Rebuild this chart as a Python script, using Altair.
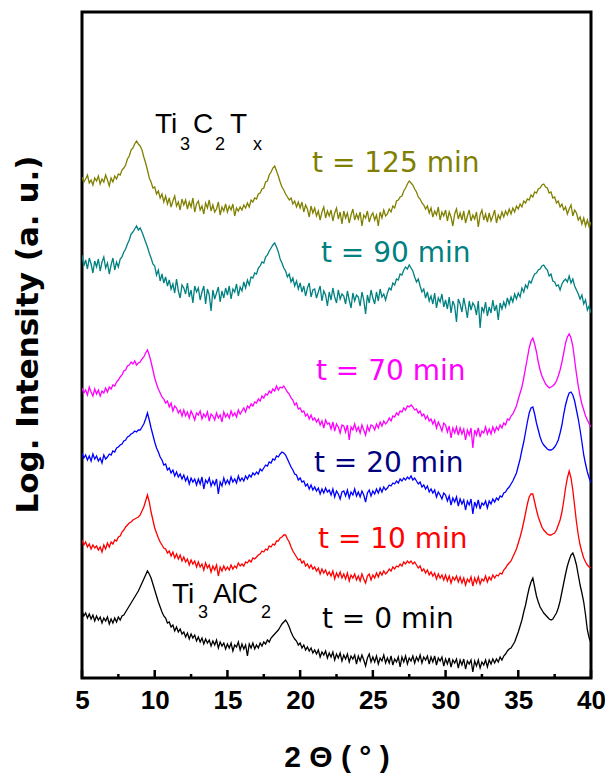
import altair as alt
import pandas as pd

# 2-theta sampling grid (degrees), 0.125 deg step from 5 to 40
angles = [5 + 0.125 * i for i in range(281)]

# Log intensity (a.u., vertically offset per sample); one row per degree (8 points)
t125 = [501,496,499,503,495,498,493,500, 497,502,494,499,496,503,498,492,
        500,496,502,499,504,503,508,510, 513,519,522,528,530,534,537,534,
        532,528,521,515,508,500,496,490, 491,484,487,480,484,476,482,474,
        480,471,477,482,472,476,468,479, 473,478,469,476,471,480,466,474,
        477,468,472,464,475,470,478,467, 473,466,469,476,463,471,467,474,
        466,472,468,474,462,470,467,471, 468,473,470,475,471,478,476,480,
        479,484,485,489,490,496,497,503, 506,510,512,507,502,496,491,488,
        484,481,478,480,474,477,471,476, 470,476,466,473,469,461,472,465,
        470,462,467,458,466,471,460,467, 462,468,457,465,470,459,466,454,
        467,460,465,455,463,469,458,464, 459,466,452,463,460,467,456,462,
        465,458,463,452,466,460,468,462, 464,469,466,472,470,477,478,481,
        482,487,490,494,497,495,493,489, 486,481,479,475,473,469,472,465,
        470,461,467,463,471,458,466,462, 468,457,466,461,452,464,469,459,
        465,458,467,455,462,468,457,463, 459,466,451,463,468,458,464,456,
        465,457,462,468,455,463,459,466, 461,467,463,469,464,470,466,472,
        469,474,471,477,475,479,478,483, 481,486,485,489,490,493,494,491,
        490,485,486,480,481,475,477,471, 474,468,471,464,469,473,462,468,
        465,458,461,454,460,452,458,451, 456]

t90 = [423,412,418,409,420,414,405,417, 411,419,407,416,421,410,415,404,
       413,420,408,416,411,419,421,426, 429,434,438,444,446,449,452,448,
       450,446,441,436,431,425,420,414, 412,403,408,397,404,395,401,392,
       398,389,394,385,399,387,380,393, 390,384,395,381,388,375,392,386,
       390,378,386,392,374,389,383,367, 388,379,385,391,376,387,380,390,
       383,392,379,389,386,394,382,391, 387,396,390,398,393,401,400,405,
       404,410,412,416,415,421,423,427, 430,433,435,431,426,419,415,410,
       407,401,404,396,400,392,397,389, 395,386,392,382,390,395,381,388,
       389,380,386,392,377,387,383,372, 386,378,390,381,375,388,379,384,
       382,374,387,378,370,385,377,383, 381,372,386,378,364,383,375,388,
       380,374,386,377,389,381,384,378, 385,390,388,395,393,399,398,404,
       403,408,411,409,413,410,407,401, 396,399,392,386,389,380,386,377,
       382,374,385,370,380,376,384,371, 378,369,381,365,377,372,356,379,
       374,366,380,371,360,377,368,375, 372,363,377,350,371,366,376,362,
       371,365,378,367,373,358,375,369, 376,371,380,374,381,376,384,379,
       385,381,390,386,393,390,397,395, 400,404,405,408,409,412,413,410,
       408,402,404,397,396,392,393,388, 394,397,399,396,402,395,399,392,
       388,384,379,383,374,378,368,372, 365]

t70 = [290,285,288,283,291,286,282,289, 284,288,282,287,285,290,286,291,
       289,293,292,296,298,301,303,307, 308,312,313,316,314,317,313,315,
       316,319,321,325,328,323,316,308, 300,294,289,285,281,279,275,277,
       271,275,267,272,270,265,268,262, 268,262,266,260,267,263,258,265,
       263,267,259,264,261,266,257,264, 262,258,265,260,263,256,266,261,
       264,260,267,262,265,261,268,264, 267,270,266,272,270,274,272,276,
       275,279,277,282,280,284,283,287, 285,289,287,292,288,291,290,292,
       289,286,284,280,278,273,275,269, 270,266,267,262,264,259,263,258,
       260,256,259,253,257,250,258,254, 255,249,256,247,254,251,245,253,
       252,246,253,238,251,248,254,247, 251,245,253,248,243,252,247,253,
       252,248,254,250,256,252,257,254, 256,260,257,262,261,265,263,267,
       266,270,268,272,271,273,271,268, 269,265,267,262,264,259,262,257,
       259,254,258,250,256,252,247,255, 253,246,252,240,250,245,251,243,
       250,244,249,238,248,243,250,230, 248,243,250,241,247,245,251,244,
       249,244,251,246,251,248,253,250, 255,253,259,258,262,264,268,272,
       279,285,291,300,310,320,330,337, 340,334,326,316,308,302,298,294,
       292,290,291,292,294,297,302,308, 316,325,335,341,344,340,332,318,
       304,292,282,274,268,262,258,254, 251]

t20 = [225,220,223,218,222,217,224,219, 222,217,220,215,223,219,221,224,
       223,227,226,230,231,233,234,237, 238,241,242,244,245,247,246,248,
       248,251,254,259,265,258,250,243, 236,230,226,221,218,213,214,208,
       210,205,208,202,206,201,204,199, 203,197,201,194,200,196,199,193,
       199,194,201,189,198,195,200,192, 197,193,199,184,196,192,200,194,
       198,194,201,196,199,195,202,197, 200,197,202,199,203,201,205,203,
       206,204,209,207,210,213,212,216, 215,219,218,222,221,224,226,225,
       223,219,215,211,208,204,203,198, 200,196,197,192,194,189,193,188,
       191,187,190,184,189,185,190,186, 188,183,189,181,187,184,179,186,
       187,182,188,180,186,183,189,182, 186,181,187,183,176,185,188,182,
       187,184,189,185,190,186,191,188, 190,193,192,195,194,197,195,199,
       197,200,198,201,199,202,198,200, 197,194,196,191,193,189,192,186,
       189,185,188,181,186,183,179,185, 183,177,182,173,180,176,181,172,
       179,174,178,168,177,173,179,164, 176,171,178,169,175,173,177,170,
       177,174,179,176,180,178,182,181, 185,186,189,191,194,197,201,205,
       212,219,228,236,246,256,265,270, 271,264,255,248,241,236,233,231,
       229,228,228,229,231,234,238,245, 253,264,273,280,285,286,283,277,
       268,259,248,236,223,214,206,200, 195]

t10 = [138,133,136,131,134,129,133,130, 132,128,131,126,133,129,135,131,
       136,134,138,137,141,142,146,148, 151,153,155,156,158,159,160,161,
       163,167,171,177,183,176,166,158, 150,145,140,136,133,130,129,125,
       127,122,126,120,124,119,123,117, 121,116,119,113,118,114,117,111,
       116,111,114,108,115,110,113,106, 112,108,113,102,111,107,112,108,
       111,108,113,109,112,110,115,112, 114,112,116,115,118,116,120,119,
       121,123,124,127,126,129,128,132, 131,134,133,137,137,140,141,143,
       143,139,136,131,127,124,121,118, 119,115,117,112,114,110,113,109,
       111,107,110,104,109,105,108,103, 106,102,107,99,105,101,106,100,
       104,99,105,97,103,100,104,98, 102,97,104,99,95,102,104,98,
       103,100,105,101,106,103,107,104, 106,109,107,111,109,112,111,114,
       112,116,114,117,115,117,114,116, 113,110,112,107,109,105,108,103,
       106,102,105,99,104,100,103,98, 103,97,102,95,101,98,102,96,
       101,95,100,93,99,96,101,92, 100,95,101,94,99,97,102,96,
       101,98,103,100,103,102,105,104, 108,110,113,115,117,121,125,129,
       135,141,148,156,165,174,181,184, 184,176,168,161,156,151,148,146,
       144,143,143,144,145,148,153,158, 166,177,190,200,207,200,188,172,
       156,143,133,126,120,116,113,111, 110]

t0 = [67,62,65,60,64,59,63,57, 62,58,61,55,60,57,61,54,
      59,55,60,56,61,58,62,63, 66,69,72,75,78,81,84,87,
      91,95,99,103,107,104,100,94, 88,82,76,71,66,62,60,55,
      56,51,53,47,51,46,49,44, 46,41,45,39,44,40,43,37,
      41,36,40,34,39,35,38,32, 37,33,38,30,36,32,35,29,
      34,30,35,27,33,31,36,28, 34,29,33,22,34,30,35,29,
      33,30,35,32,36,34,38,36, 40,42,44,46,48,51,54,56,
      58,55,51,46,42,39,37,33, 35,30,33,28,31,27,30,25,
      28,24,28,21,26,23,27,20, 25,21,26,18,24,20,25,17,
      23,19,24,16,22,19,23,14, 22,17,23,18,12,20,24,16,
      21,16,22,14,20,17,23,15, 20,15,22,13,19,16,21,11,
      21,16,22,14,20,17,22,15, 21,17,23,15,21,18,22,14,
      21,16,22,13,20,17,21,12, 19,14,20,11,18,15,19,10,
      18,13,19,9,17,14,18,6, 17,12,18,10,16,13,18,11,
      18,14,19,15,19,16,21,18, 22,24,27,29,30,33,36,41,
      46,52,58,66,73,82,90,96, 100,91,82,76,71,68,65,63,
      61,59,58,59,62,65,70,77, 86,95,104,112,118,123,125,120,
      113,103,93,85,76,63,48,40, 35]

sample_names = ["125 min", "90 min", "70 min", "20 min", "10 min", "0 min"]
sample_series = [t125, t90, t70, t20, t10, t0]
line_colors = ["#808000", "#008080", "#FF00FF", "#0000FF", "#FF0000", "#000000"]

# Sample labels
time_labels = ["t = 125 min", "t = 90 min", "t = 70 min", "t = 20 min", "t = 10 min", "t = 0 min"]
time_label_theta = [20.82, 21.43, 21.09, 20.95, 21.23, 21.5]
time_label_int = [506, 416, 298, 206, 130, 50]
time_label_colors = ["#808000", "#008080", "#FF00FF", "#000080", "#FF0000", "#000000"]

# Phase formulas: main glyphs and subscripts
formula_main = ["Ti", "C", "T", "Ti", "AlC"]
formula_main_theta = [10.02, 12.63, 15.18, 11.19, 14.0]
formula_main_int = [545, 545, 545, 75, 75]
formula_sub = ["3", "2", "x", "3", "2"]
formula_sub_theta = [11.74, 14.15, 16.76, 12.98, 17.31]
formula_sub_int = [528, 528, 528, 60, 60]

major_ticks = [5, 10, 15, 20, 25, 30, 35, 40]
minor_ticks = [7.5, 12.5, 17.5, 22.5, 27.5, 32.5, 37.5]

for s in sample_series:
    assert len(s) == len(angles), len(s)

rows = []
for name, series in zip(sample_names, sample_series):
    for a, v in zip(angles, series):
        rows.append({"theta": a, "intensity": v, "sample": name})
curves = pd.DataFrame(rows)

x_scale = alt.Scale(domain=[5, 40], nice=False, zero=False)
y_scale = alt.Scale(domain=[0, 666], nice=False, zero=False)

x_axis = alt.Axis(values=major_ticks, format="d", labelFlush=False, ticks=False,
                  domain=False, grid=False,
                  labelFont="Liberation Sans", labelFontWeight="bold",
                  labelFontSize=26, labelColor="black", labelPadding=9,
                  titleFont="Liberation Sans", titleFontSize=30,
                  titleFontWeight="bold", titleColor="black", titlePadding=29)
y_axis = alt.Axis(labels=False, ticks=False, domain=False, grid=False,
                  titleFont="DejaVu Sans", titleFontSize=31, titleFontWeight="bold",
                  titleColor="black", titleAngle=270, titleX=-45, titleY=322,
                  titleAlign="center", titleBaseline="alphabetic")

X_TITLE = "2 Θ ( ° )"
Y_TITLE = "Log. Intensity (a. u.)"


def xenc():
    return alt.X("theta:Q", scale=x_scale, axis=x_axis, title=X_TITLE)


def yenc():
    return alt.Y("intensity:Q", scale=y_scale, axis=y_axis, title=Y_TITLE)


lines = alt.Chart(curves).mark_line(strokeWidth=1.3, clip=True).encode(
    x=xenc(), y=yenc(),
    color=alt.Color("sample:N", scale=alt.Scale(domain=sample_names, range=line_colors),
                    legend=None),
    order="theta:Q",
)

major = alt.Chart(pd.DataFrame({"theta": major_ticks})).mark_rule(
    color="black", strokeWidth=2.5).encode(
    x=xenc(), y=alt.value(666), y2=alt.value(658))

minor = alt.Chart(pd.DataFrame({"theta": minor_ticks})).mark_rule(
    color="black", strokeWidth=2.5).encode(
    x=xenc(), y=alt.value(666), y2=alt.value(662))

time_df = pd.DataFrame({"theta": time_label_theta, "intensity": time_label_int,
                        "label": time_labels, "color": time_label_colors})
time_text = alt.Chart(time_df).mark_text(
    align="left", baseline="alphabetic", font="DejaVu Sans", fontSize=28).encode(
    x=xenc(), y=yenc(), text="label:N",
    color=alt.Color("color:N", scale=None))

main_df = pd.DataFrame({"theta": formula_main_theta, "intensity": formula_main_int,
                        "label": formula_main})
main_text = alt.Chart(main_df).mark_text(
    align="left", baseline="alphabetic", font="Liberation Sans", fontSize=28,
    color="black").encode(x=xenc(), y=yenc(), text="label:N")

sub_df = pd.DataFrame({"theta": formula_sub_theta, "intensity": formula_sub_int,
                       "label": formula_sub})
sub_text = alt.Chart(sub_df).mark_text(
    align="left", baseline="alphabetic", font="Liberation Sans", fontSize=18,
    color="black").encode(x=xenc(), y=yenc(), text="label:N")

chart = alt.layer(lines, major, minor, time_text, main_text, sub_text).properties(
    width=509, height=666,
    autosize=alt.AutoSizeParams(type="none"),
    padding={"left": 82, "top": 12, "right": 14, "bottom": 102},
    background="white",
).configure_view(stroke="black", strokeWidth=3)

chart.save("out.html", embed_options={"renderer": "svg", "actions": False})
